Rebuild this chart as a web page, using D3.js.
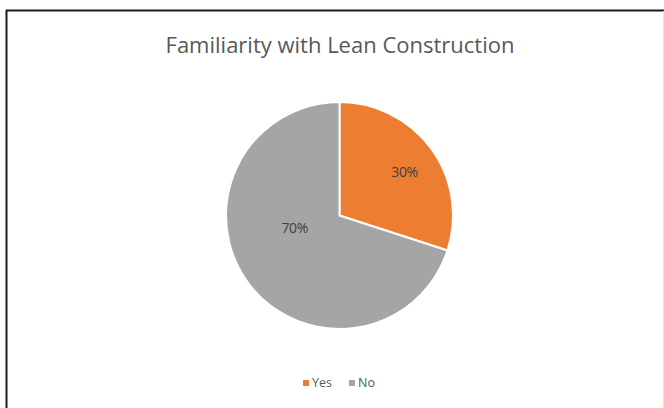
<!DOCTYPE html>
<html>
<head>
<meta charset="utf-8">
<script src="https://cdn.jsdelivr.net/npm/d3@7"></script>
<style>
  html, body { margin: 0; padding: 0; background: #fff; }
  svg { display: block; }
</style>
</head>
<body>
<svg id="chart" width="664" height="408"></svg>
<script>
// Survey answers: share of respondents familiar with Lean Construction
const categories = ["Yes", "No"];
const shares = [30, 70];
const sliceColors = ["#ED7D31", "#A5A5A5"];
const titleText = "Familiarity with Lean Construction";

// Where each percentage sits inside its slice:
// t = position along the slice's sweep (0..1), rf = fraction of the radius
const labelPlacement = [{ t: 0.52, rf: 0.69 }, { t: 0.58, rf: 0.41 }];

const svg = d3.select("#chart");
const W = 664, H = 408;
const font = "'Open Sans', 'Noto Sans', sans-serif";

// Frame edges of the chart area
svg.append("line").attr("x1", 6).attr("x2", W).attr("y1", 10.5).attr("y2", 10.5)
  .attr("stroke", "#1a1a1a").attr("stroke-width", 2);
svg.append("line").attr("x1", 6.5).attr("x2", 6.5).attr("y1", 10).attr("y2", H)
  .attr("stroke", "#1a1a1a").attr("stroke-width", 2);
svg.append("line").attr("x1", 663.5).attr("x2", 663.5).attr("y1", 11).attr("y2", H)
  .attr("stroke", "#e4e4e4").attr("stroke-width", 1);

// Title
svg.append("text")
  .attr("x", 340).attr("y", 53)
  .attr("text-anchor", "middle")
  .attr("font-family", font)
  .attr("font-size", 22)
  .attr("fill", "#595959")
  .text(titleText);

// Pie
const cx = 339.5, cy = 215.5, r = 113.5;
const color = d3.scaleOrdinal().domain(categories).range(sliceColors);
const data = categories.map((c, i) => ({ cat: c, value: shares[i] }));
const pie = d3.pie().value(d => d.value).sort(null);
const arcs = pie(data);
const arc = d3.arc().innerRadius(0).outerRadius(r);

const g = svg.append("g").attr("transform", `translate(${cx},${cy})`);
g.selectAll("path.slice").data(arcs).join("path")
  .attr("class", "slice")
  .attr("d", arc)
  .attr("fill", d => color(d.data.cat))
  .attr("stroke", "#fff")
  .attr("stroke-width", 2)
  .attr("stroke-linejoin", "round");

function labelPos(d, i) {
  const p = labelPlacement[i];
  const a = d.startAngle + (d.endAngle - d.startAngle) * p.t;
  const rr = r * p.rf;
  return [Math.sin(a) * rr, -Math.cos(a) * rr];
}

g.selectAll("text.pct").data(arcs).join("text")
  .attr("class", "pct")
  .attr("transform", (d, i) => `translate(${labelPos(d, i)})`)
  .attr("text-anchor", "middle")
  .attr("dy", "0.35em")
  .attr("font-family", font)
  .attr("font-size", 14)
  .attr("letter-spacing", -0.3)
  .attr("fill", "#404040")
  .text(d => d.data.value + "%");

// Legend
const legendY = 383;
const legendX = d3.scaleOrdinal().domain(categories).range([303, 349]);
const lg = svg.append("g");
const items = lg.selectAll("g").data(categories).join("g")
  .attr("transform", d => `translate(${legendX(d)},${legendY})`);
items.append("rect")
  .attr("x", 0).attr("y", -3).attr("width", 6).attr("height", 6)
  .attr("fill", d => color(d));
items.append("text")
  .attr("x", 9).attr("y", 0).attr("dy", "0.35em")
  .attr("font-family", font)
  .attr("font-size", 12.5)
  .attr("fill", "#595959")
  .text(d => d);
</script>
</body>
</html>
